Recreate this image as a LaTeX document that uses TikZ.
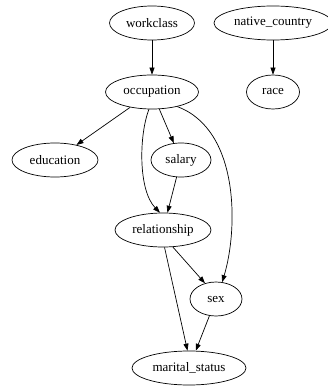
\documentclass[tikz,border=0pt]{standalone}
\usepackage{fontspec}
\setmainfont{Liberation Serif}
\usetikzlibrary{shapes.geometric,arrows.meta}
\begin{document}
\begin{tikzpicture}[x=1pt,y=-1pt,
  nd/.style={draw,ellipse,inner sep=0pt,minimum height=34pt,font=\fontsize{13}{13}\selectfont,line width=0.7pt},
  ed/.style={draw,line width=0.7pt,-{Triangle[length=7pt,width=5pt]}}]
\useasboundingbox (0,0) rectangle (327,387);
\node[nd,minimum width=85pt] (wc) at (152,23) {workclass};
\node[nd,minimum width=118pt] (nc) at (273,23) {native\_country};
\node[nd,minimum width=93pt] (occ) at (152,92) {occupation};
\node[nd,minimum width=53pt] (race) at (273,92) {race};
\node[nd,minimum width=86pt] (edu) at (55,160) {education};
\node[nd,minimum width=60pt] (sal) at (181,160) {salary};
\node[nd,minimum width=96pt] (rel) at (163,230) {relationship};
\node[nd,minimum width=52pt] (sex) at (216,299) {sex};
\node[nd,minimum width=114pt] (ms) at (189,368) {marital\_status};
\draw[ed] (wc) -- (occ);
\draw[ed] (nc) -- (race);
\draw[ed] (occ) -- (edu);
\draw[ed] (occ) -- (sal);
\draw[ed] (occ.-100) .. controls (139,135) and (138,190) .. (rel.100);
\draw[ed] (sal) -- (rel);
\draw[ed] (occ.-30) .. controls (240,130) and (238,230) .. (sex.70);
\draw[ed] (rel.-85) -- (ms.95);
\draw[ed] (rel.-60) -- (sex.125);
\draw[ed] (sex) -- (ms);
\end{tikzpicture}
\end{document}
